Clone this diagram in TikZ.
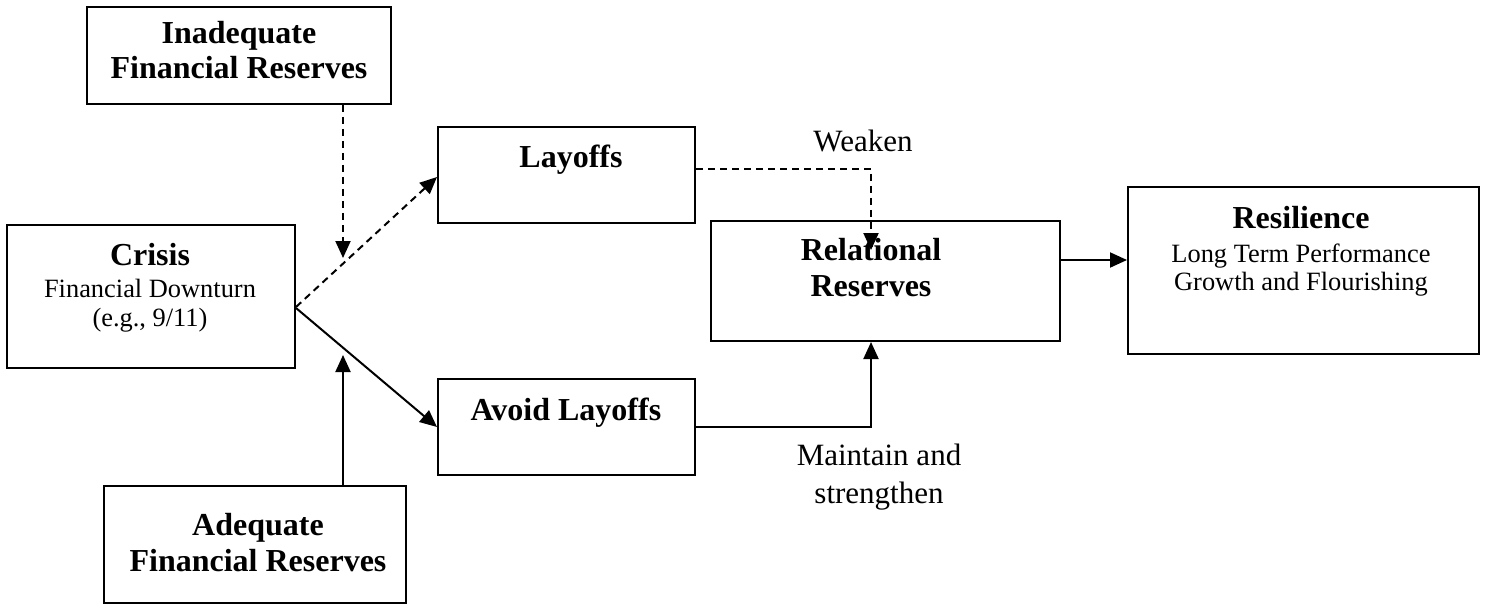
\documentclass[tikz,border=0pt]{standalone}
\usepackage{fontspec}
\setmainfont{Liberation Serif}
\usetikzlibrary{arrows.meta}

\tikzset{
  box/.style={draw, line width=1pt, rectangle, inner sep=0pt},
  ttl/.style={anchor=base, inner sep=0pt, font=\fontsize{16}{19}\selectfont\bfseries},
  body/.style={anchor=base, inner sep=0pt, font=\fontsize{13.2}{15}\selectfont},
  lbl/.style={anchor=base, inner sep=0pt, font=\fontsize{15.5}{18}\selectfont},
  link/.style={line width=1pt, -{Triangle[length=8.5pt,width=7.5pt]}},
  dlink/.style={link, dash pattern=on 3.5pt off 2.5pt},
}

\begin{document}
\begin{tikzpicture}[x=0.5pt, y=-0.5pt]
  \useasboundingbox (0,0) rectangle (1486,604);

  % boxes
  \node[box, minimum width=152pt,   minimum height=48.5pt] (inad)   at (239,55.5)    {};
  \node[box, minimum width=144pt,   minimum height=71.5pt] (crisis) at (151,296.5)   {};
  \node[box, minimum width=128.5pt, minimum height=48pt]   (lay)    at (566.5,175)   {};
  \node[box, minimum width=128.5pt, minimum height=48pt]   (avoid)  at (566.5,427)   {};
  \node[box, minimum width=174.5pt, minimum height=60pt]   (rel)    at (885.5,281)   {};
  \node[box, minimum width=175.5pt, minimum height=83.5pt] (res)    at (1303.5,270.5){};
  \node[box, minimum width=151pt,   minimum height=58.5pt] (adeq)   at (255,544.5)   {};

  % box texts
  \node[ttl]  (inadA) at (239,44)   {Inadequate};
  \node[ttl]  (inadB) at (239,79)   {Financial Reserves};

  \node[ttl]  (crA)   at (150,265)  {Crisis};
  \node[body] (crB)   at (150,297)  {Financial Downturn};
  \node[body] (crC)   at (150,326)  {(e.g., 9/11)};

  \node[ttl]  (layT)  at (571,168)  {Layoffs};
  \node[ttl]  (avT)   at (566,420)  {Avoid Layoffs};

  \node[ttl]  (relA)  at (871,260)  {Relational};
  \node[ttl]  (relB)  at (871,296)  {Reserves};

  \node[ttl]  (resA)  at (1301,228) {Resilience};
  \node[body] (resB)  at (1301,262) {Long Term Performance};
  \node[body] (resC)  at (1301,290) {Growth and Flourishing};

  \node[ttl]  (adA)   at (258,535)  {Adequate};
  \node[ttl]  (adB)   at (258,571)  {Financial Reserves};

  % connector labels
  \node[lbl]  (wk)    at (863,152)  {Weaken};
  \node[lbl]  (mtA)   at (879,465)  {Maintain and};
  \node[lbl]  (mtB)   at (879,503)  {strengthen};

  % junction points
  \coordinate (jn)  at (343,258);
  \coordinate (js)  at (343,355);
  \coordinate (rin) at (871,250);

  % connectors
  \draw[dlink] ([yshift=-5.25pt]crisis.east) -- ([yshift=-1pt]lay.west);
  \draw[link]  ([yshift=-5.75pt]crisis.east) -- (avoid.west);
  \draw[dlink] (inad.south -| jn) -- (jn);
  \draw[link]  (adeq.north -| js) -- (js);
  \draw[dlink] ([yshift=3pt]lay.east) -| (rin);
  \draw[link]  (avoid.east) -| (rel.south -| rin);
  \draw[link]  ([yshift=10.5pt]rel.east) -- ([yshift=10.5pt]rel.east -| res.west);
\end{tikzpicture}
\end{document}
